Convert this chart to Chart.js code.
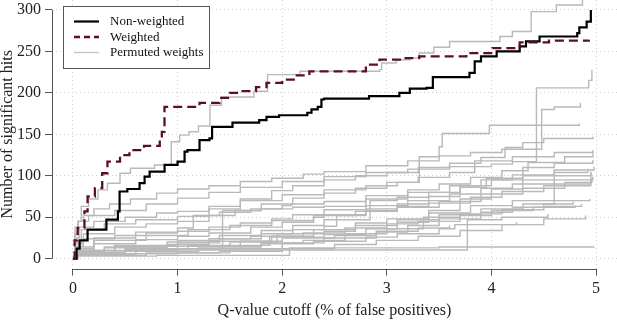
<!DOCTYPE html>
<html>
<head>
<meta charset="utf-8">
<script src="https://cdn.jsdelivr.net/npm/chart.js@4.4.1/dist/chart.umd.min.js"></script>
<style>
html,body{margin:0;padding:0;background:#fff;}
#wrap{width:617px;height:322px;position:relative;}
</style>
</head>
<body>
<div id="wrap"><canvas id="c" width="617" height="322"></canvas></div>
<script>
// ---- data: [q-value cutoff (%), number of significant hits] ----
const xTicks = [0, 1, 2, 3, 4, 5];
const yTicks = [0, 50, 100, 150, 200, 250, 300];
const legendLabels = ['Non-weighted', 'Weighted', 'Permuted weights'];
const xTitle = 'Q-value cutoff (% of false positives)';
const yTitle = 'Number of significant hits';

const nonWeighted = [[0,0],[0.035,12],[0.064,22],[0.14,35],[0.32,47],[0.43,57],[0.446,81],[0.52,84],[0.637,91],[0.685,99],[0.733,105],[0.876,113],[1.0,117],[1.067,129],[1.095,131],[1.21,143],[1.305,145],[1.33,159],[1.525,164],[1.78,167],[1.85,171],[1.97,173],[2.24,176],[2.28,180],[2.34,183],[2.375,192],[2.40,193],[2.83,196],[3.12,200],[3.22,205],[3.38,206],[3.44,219],[3.79,224],[3.84,238],[3.90,244],[4.05,250],[4.27,256],[4.33,262],[4.46,268],[4.82,272],[4.84,279],[4.91,286],[4.95,300]];
const weighted = [[0,0],[0.016,22],[0.045,37],[0.11,57],[0.14,75],[0.21,85],[0.28,103],[0.33,117],[0.45,125],[0.54,131],[0.68,136],[0.83,146],[0.85,153],[0.875,183],[1.18,185],[1.21,188],[1.40,194],[1.50,200],[1.59,202],[1.75,207],[1.85,212],[2.0,216],[2.14,221],[2.26,226],[2.80,234],[2.93,240],[3.18,242],[3.31,244],[3.76,248],[4.01,254],[4.27,261],[4.55,263],[4.93,264]];

const perm01 = [[0,0],[0.02,30],[0.05,45],[0.08,63],[0.15,72],[0.24,83],[0.33,91],[0.45,103],[0.55,109],[0.78,113],[0.94,141],[1.02,149],[1.11,153],[1.2,160],[1.31,185],[1.42,195],[1.73,202],[1.86,222],[2.17,226],[2.93,228],[2.95,236],[3.09,240],[3.22,242],[3.31,248],[3.45,255],[3.6,262],[4.08,268],[4.2,274],[4.38,298],[4.62,306],[4.87,312]];
const perm02 = [[0,0],[0.02,30],[0.05,45],[0.15,52],[0.4,58],[0.7,66],[1.0,73],[1.3,80],[1.6,86],[2.0,93],[2.4,99],[2.8,104],[3.2,108],[3.6,111],[4.0,114],[4.2,117],[4.43,206],[4.93,215],[4.96,228]];
const perm03 = [[0,0],[0.02,38],[0.05,45],[0.1,52],[0.2,60],[0.35,66],[0.55,72],[0.8,79],[1.0,84],[1.3,88],[1.6,93],[1.9,97],[2.2,102],[2.4,105],[2.8,112],[3.2,118],[3.5,124],[3.8,128],[4.1,132],[4.48,180],[4.6,183],[4.85,188]];
const perm04 = [[0,0],[0.02,25],[0.06,38],[0.2,45],[0.5,50],[0.8,55],[1.0,57],[1.3,63],[1.6,70],[2.0,77],[2.4,83],[2.8,88],[3.1,92],[3.31,123],[3.5,135],[3.53,151],[3.98,161],[4.84,163]];
const perm05 = [[0,0],[0.02,20],[0.08,35],[0.3,42],[0.6,47],[1.0,51],[1.3,60],[1.6,72],[1.9,82],[2.1,88],[2.4,95],[2.7,100],[3.0,104],[3.3,110],[3.6,115],[3.9,122],[4.13,134],[4.3,140],[4.5,145],[4.97,147]];
const perm06 = [[0,0],[0.02,15],[0.1,30],[0.4,38],[0.7,42],[1.0,45],[1.3,52],[1.55,58],[1.8,66],[2.1,73],[2.4,79],[2.7,85],[3.0,92],[3.3,98],[3.6,104],[3.84,118],[4.2,123],[4.6,128],[4.97,131]];
const perm07 = [[0,0],[0.02,10],[0.2,25],[0.6,32],[1.0,37],[1.15,52],[1.4,56],[1.7,60],[2.0,64],[2.09,66],[2.4,69],[2.8,76],[3.2,83],[3.5,90],[3.8,98],[4.1,106],[4.35,116],[4.7,123],[4.97,127]];
const perm08 = [[0,0],[0.03,12],[0.2,18],[0.6,23],[1.0,27],[1.3,31],[1.7,38],[2.0,44],[2.3,50],[2.4,53],[2.8,60],[3.1,66],[3.4,75],[3.7,86],[3.95,97],[4.3,110],[4.6,115],[4.97,119]];
const perm09 = [[0,0],[0.02,5],[0.4,10],[1.0,12],[1.43,58],[1.8,60],[2.1,62],[2.4,63],[2.8,72],[3.2,80],[3.6,88],[3.9,95],[4.2,101],[4.6,107],[4.98,111]];
const perm10 = [[0,0],[0.04,10],[0.4,16],[1.0,22],[1.4,28],[1.8,34],[2.1,40],[2.4,47],[2.84,70],[3.1,74],[3.4,80],[3.7,88],[4.0,95],[4.3,100],[4.6,104],[4.92,108]];
const perm11 = [[0,0],[0.04,6],[0.6,10],[1.0,12],[1.6,16],[1.88,26],[2.4,29],[2.8,36],[3.1,44],[3.4,58],[3.7,72],[4.0,84],[4.3,95],[4.6,100],[4.95,105]];
const perm12 = [[0,0],[0.02,18],[0.1,24],[0.4,28],[0.7,31],[1.0,33],[1.3,38],[1.6,43],[1.9,48],[2.1,53],[2.4,59],[2.8,64],[3.2,70],[3.6,78],[3.9,85],[4.2,90],[4.6,95],[4.97,99]];
const perm13 = [[0,0],[0.02,10],[0.4,15],[1.0,19],[1.4,24],[1.8,30],[2.1,35],[2.4,39],[2.52,52],[2.8,58],[3.1,63],[3.4,67],[3.8,74],[4.1,81],[4.5,88],[4.95,94]];
const perm14 = [[0,0],[0.03,7],[0.5,11],[1.0,15],[1.5,20],[1.95,30],[2.4,33],[2.7,40],[3.1,47],[3.5,53],[3.9,60],[4.3,66],[4.6,70],[4.94,72]];
const perm15 = [[0,0],[0.05,4],[0.6,6],[1.0,7],[1.5,12],[2.0,19],[2.4,25],[2.9,32],[3.2,40],[3.5,48],[3.9,56],[4.2,62],[4.5,66],[4.78,69]];
const perm16 = [[0,0],[0.04,8],[0.5,10],[1.0,12],[1.4,15],[1.8,19],[2.2,22],[2.6,30],[3.0,36],[3.35,50],[3.7,54],[4.1,59],[4.5,63],[4.86,66]];
const perm17 = [[0,0],[0.03,5],[0.5,9],[1.2,10.5],[3.77,47],[4.1,50],[4.54,54]];
const perm18 = [[0,0],[0.05,5],[0.6,9],[1.2,14],[1.8,18],[2.3,21],[2.8,26],[3.1,30],[3.5,36],[3.65,41],[4.24,44]];
const perm19 = [[0,0],[0.03,3],[0.8,4],[2.07,13],[3.5,14],[4.98,14.5]];
const perm20 = [[0,0],[0.02,8],[0.3,14],[0.9,20],[1.3,24],[1.7,27],[2.2,31],[2.6,37],[3.0,42],[3.3,45],[3.7,52],[4.0,58],[4.4,62],[4.8,64]];
const perm21 = [[0,0],[0.03,6],[0.5,12],[1.1,16],[1.6,21],[2.0,25],[2.5,28],[2.9,33],[3.3,37],[3.6,40]];
const perm22 = [[0,0],[0.02,14],[0.2,22],[0.7,28],[1.1,35],[1.5,40],[1.9,46],[2.3,52],[2.7,57],[3.1,62],[3.5,69],[3.9,78],[4.3,85],[4.7,92],[4.96,97]];
const perm23 = [[0,0],[0.04,4],[0.7,7],[1.4,9],[2.0,12],[2.5,17],[2.9,22],[3.3,27],[3.7,34],[4.1,41],[4.5,48],[4.9,52]];
const perm24 = [[0,0],[0.02,9],[0.3,13],[0.9,17],[1.3,21],[1.9,27],[2.3,35],[2.7,43],[3.0,48],[3.4,55],[3.8,64],[4.2,70],[4.6,90],[4.95,104]];

const permutedRuns = [perm01, perm02, perm03, perm04, perm05, perm06, perm07, perm08, perm09, perm10,
  perm11, perm12, perm13, perm14, perm15, perm16, perm17, perm18, perm19, perm20,
  perm21, perm22, perm23, perm24];

// ---- styles ----
const COL_BLACK = '#000000';
const COL_WEIGHTED = '#5b0f22';
const COL_GRAY = '#b9b9b9';
const COL_AXIS = '#555555';
const FONT = "'Liberation Serif', 'Times New Roman', serif";

const toXY = arr => arr.map(p => ({x: p[0], y: p[1]}));

const datasets = [
  {label: legendLabels[1], data: toXY(weighted), borderColor: COL_WEIGHTED, borderWidth: 2.3, borderDash: [9, 5], stepped: true, pointRadius: 0, fill: false},
  {label: legendLabels[0], data: toXY(nonWeighted), borderColor: COL_BLACK, borderWidth: 2.2, stepped: true, pointRadius: 0, fill: false}
];
permutedRuns.forEach((run, i) => {
  datasets.push({label: legendLabels[2] + ' ' + (i + 1), data: toXY(run), borderColor: COL_GRAY, borderWidth: 1.4, stepped: true, pointRadius: 0, fill: false});
});

const axisPlugin = {
  id: 'rAxes',
  afterDraw(chart) {
    const ctx = chart.ctx;
    const xs = chart.scales.x, ys = chart.scales.y;
    const ca = chart.chartArea;
    ctx.save();
    ctx.strokeStyle = COL_AXIS;
    ctx.lineWidth = 1;
    ctx.beginPath();
    ctx.moveTo(xs.getPixelForValue(xTicks[0]), Math.round(ca.bottom) + 0.5);
    ctx.lineTo(xs.getPixelForValue(xTicks[xTicks.length - 1]), Math.round(ca.bottom) + 0.5);
    ctx.moveTo(Math.round(ca.left) + 0.5, ys.getPixelForValue(yTicks[0]));
    ctx.lineTo(Math.round(ca.left) + 0.5, ys.getPixelForValue(yTicks[yTicks.length - 1]));
    ctx.stroke();

    // legend box
    const bx = 63.5, by = 6.5, bw = 146, bh = 62;
    ctx.fillStyle = '#ffffff';
    ctx.fillRect(bx, by, bw, bh);
    ctx.strokeStyle = COL_AXIS;
    ctx.strokeRect(bx, by, bw, bh);
    const rows = [
      {y: 21.5, color: COL_BLACK, w: 2.2, dash: []},
      {y: 37, color: COL_WEIGHTED, w: 2.3, dash: [6, 4]},
      {y: 52.5, color: '#c6c6c6', w: 1.4, dash: []}
    ];
    ctx.font = '13px ' + FONT;
    ctx.textBaseline = 'middle';
    ctx.textAlign = 'left';
    rows.forEach((r, i) => {
      ctx.beginPath();
      ctx.setLineDash(r.dash);
      ctx.strokeStyle = r.color;
      ctx.lineWidth = r.w;
      ctx.moveTo(74, r.y);
      ctx.lineTo(99, r.y);
      ctx.stroke();
      ctx.setLineDash([]);
      ctx.fillStyle = '#111111';
      ctx.fillText(legendLabels[i], 110, r.y + 0.5);
    });
    ctx.restore();
  }
};

new Chart(document.getElementById('c'), {
  type: 'line',
  data: {datasets},
  options: {
    responsive: false,
    animation: false,
    devicePixelRatio: 1,
    layout: {padding: 0},
    plugins: {legend: {display: false}, tooltip: {enabled: false}},
    scales: {
      x: {
        type: 'linear', min: -0.2, max: 5.2,
        afterBuildTicks: s => { s.ticks = xTicks.map(v => ({value: v})); },
        afterFit: s => { s.height = 53.4; s.paddingLeft = 0; s.paddingRight = 0; s.paddingTop = 0; s.paddingBottom = 0; },
        ticks: {font: {family: FONT, size: 16}, color: '#222', padding: 4, maxRotation: 0, autoSkip: false, callback: v => String(v)},
        grid: {color: '#d0d0d0', lineWidth: 1, drawTicks: true, tickLength: 7, tickColor: COL_AXIS, tickWidth: 1, tickBorderDash: []},
        border: {display: false, dash: [1, 3]},
        title: {display: true, text: xTitle, font: {family: FONT, size: 16, lineHeight: 1}, color: '#222', padding: {top: 0, bottom: 3}}
      },
      y: {
        type: 'linear', min: -12, max: 312,
        afterBuildTicks: s => { s.ticks = yTicks.map(v => ({value: v})); },
        afterFit: s => { s.width = 52; s.paddingLeft = 0; s.paddingRight = 0; s.paddingTop = 0; s.paddingBottom = 0; },
        ticks: {font: {family: FONT, size: 16}, color: '#222', padding: 4, autoSkip: false, callback: v => String(v)},
        grid: {color: '#d0d0d0', lineWidth: 1, drawTicks: true, tickLength: 7, tickColor: COL_AXIS, tickWidth: 1, tickBorderDash: []},
        border: {display: false, dash: [1, 3]},
        title: {display: true, text: yTitle, font: {family: FONT, size: 16, lineHeight: 1}, color: '#222', padding: {top: 0, bottom: 0}}
      }
    }
  },
  plugins: [axisPlugin]
});
</script>
</body>
</html>
